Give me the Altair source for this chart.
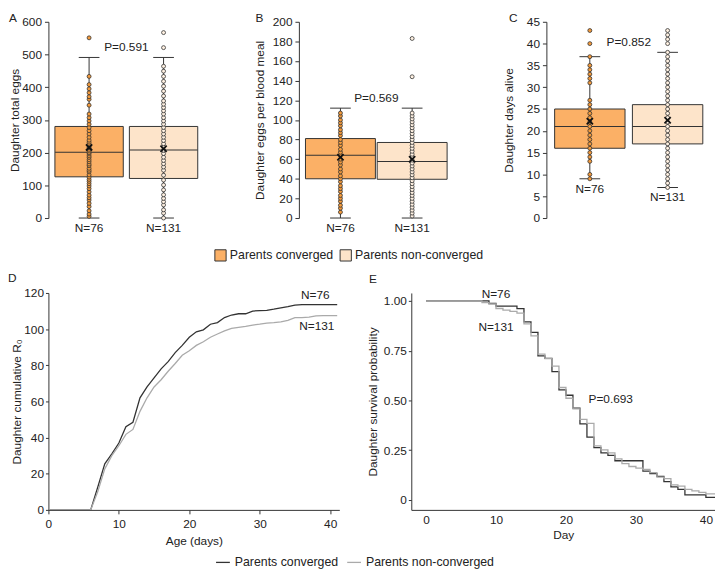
import altair as alt
import pandas as pd

FONT = "Liberation Sans"
TXT = "#222222"
AX = "#333333"

groups = ["Parents converged", "Parents non-converged"]
line_groups = ["converged", "non-converged"]
n_text = ["N=76", "N=131"]
box_fill = ["#FBB066", "#FDE4CA"]
point_fill = ["#F39A3C", "#FFF1E2"]
line_colors = ["#333333", "#AAAAAA"]

# ---------------- Panel A: total eggs ----------------
a_q1 = [126, 121]
a_med = [201, 208]
a_q3 = [280, 280]
a_lo = [0, 0]
a_hi = [491, 491]
a_mean = [216, 212]
a_conv = [5, 12, 22, 35, 45, 55, 62, 70, 80, 90, 98, 105, 112, 118, 125, 132, 141, 146,
          152, 160, 165, 172, 178, 185, 190, 196, 200, 205, 210, 215, 220, 226, 232, 238,
          247, 257, 267, 277, 287, 297, 307, 318, 345, 363, 371, 383, 395, 408, 433, 551]
a_non = [0, 15, 25, 40, 50, 60, 71, 86, 101, 116, 131, 146, 156, 166, 176, 186, 197, 207,
         217, 227, 237, 247, 257, 267, 277, 287, 297, 307, 318, 328, 338, 348, 358, 373,
         388, 403, 418, 433, 449, 464, 521, 567]

# ---------------- Panel B: eggs per blood meal ----------------
b_q1 = [40, 39.5]
b_med = [64, 57.5]
b_q3 = [81, 77]
b_lo = [0, 0]
b_hi = [112, 112]
b_mean = [62, 60]
b_conv = [6, 10, 13, 17, 20, 23, 27, 30, 33, 37, 40, 43, 47, 50, 54, 57, 60, 64, 67, 70,
          74, 77, 80, 84, 87, 90, 94, 97, 100, 104, 107]
b_non = [2, 5, 8, 11, 14, 17, 20, 23, 26, 29, 32, 35, 38, 41, 44, 47, 50, 53, 56, 59, 62,
         65, 68, 71, 74, 77, 80, 83, 86, 89, 92, 95, 98, 101, 104, 107, 144, 183]

# ---------------- Panel C: days alive ----------------
c_q1 = [16, 17]
c_med = [21, 21]
c_q3 = [25, 26]
c_lo = [9, 7]
c_hi = [37, 38]
c_mean = [22.2, 22.4]
c_conv = [9, 10, 13, 14, 15, 16, 17, 18, 19, 20, 21, 22, 23, 24, 25, 26, 27, 31, 32, 33,
          34, 35, 37, 40, 43]
c_non = [7, 8, 9, 10, 11, 12, 13, 14, 15, 16, 17, 18, 19, 20, 21, 22, 23, 24, 25, 26, 27,
         28, 29, 30, 31, 32, 33, 34, 35, 36, 37, 38, 40, 41, 42, 43]

# ---------------- Panel D: cumulative R0 ----------------
d_days = list(range(0, 42))
d_conv = [0, 0, 0, 0, 0, 0, 0, 12.5, 25.5, 31, 37, 46, 48.5, 62, 68, 73, 78, 82, 87, 91,
          95.5, 98.5, 99.6, 102.7, 103.6, 106.4, 107.8, 108.5, 108.5, 110, 110.2, 110.4,
          111, 111.8, 112.4, 113.3, 113.5, 113.5, 113.5, 113.5, 113.5, 113.5]
d_non = [0, 0, 0, 0, 0, 0, 0, 10, 22.7, 30, 35.5, 41.8, 44.5, 54.5, 62, 68, 72, 76.7, 81,
         85.5, 88, 91, 93, 95.5, 97.3, 99, 100.4, 101, 101.5, 102.2, 102.7, 103.3, 103.6,
         104, 104.9, 106.4, 106.4, 106.6, 107.3, 107.5, 107.5, 107.5]
d_lab_x = [37.9, 38.1]
d_lab_y = [119, 101.5]

# ---------------- Panel E: survival ----------------
e_days = list(range(0, 43))
e_conv = [1, 1, 1, 1, 1, 1, 1, 1, 1, 0.987, 0.974, 0.974, 0.974, 0.961, 0.895, 0.842,
          0.724, 0.711, 0.645, 0.553, 0.526, 0.461, 0.382, 0.316, 0.263, 0.237, 0.224,
          0.197, 0.197, 0.197, 0.197, 0.145, 0.132, 0.118, 0.092, 0.066, 0.053, 0.026,
          0.026, 0.026, 0.013, 0.013, 0.013]
e_non = [1, 1, 1, 1, 1, 1, 1, 1, 0.992, 0.985, 0.962, 0.954, 0.947, 0.939, 0.885, 0.824,
         0.733, 0.710, 0.672, 0.565, 0.511, 0.458, 0.405, 0.385, 0.272, 0.252, 0.237,
         0.206, 0.183, 0.168, 0.160, 0.153, 0.137, 0.115, 0.107, 0.076, 0.069, 0.053,
         0.046, 0.038, 0.031, 0.031, 0.023]
e_lab_x = [10.0, 10.0]
e_lab_y = [1.035, 0.867]
e_p_x = [26.4]
e_p_y = [0.505]
e_p_text = ["P=0.693"]

CROSS = "M-1,-1L1,1M-1,1L1,-1"


def y_axis(title, values, title_pad, tick=4, lpad=3, fmt_expr=None):
    kw = dict(values=values, title=title, titlePadding=title_pad, tickSize=tick,
              labelPadding=lpad, grid=False, domainColor=AX, tickColor=AX,
              labelColor=TXT, titleColor=TXT, labelFont=FONT, titleFont=FONT,
              labelFontSize=12, titleFontSize=12, titleFontWeight="normal",
              labelOverlap=False)
    if fmt_expr:
        kw["labelExpr"] = fmt_expr
    return alt.Axis(**kw)


def panel_title(letter, dx, offset):
    return alt.TitleParams(letter, anchor="start", frame="group", dx=dx, offset=offset,
                           font=FONT, fontSize=12, fontWeight="normal", color=TXT,
                           baseline="bottom")


def box_panel(letter, ldx, ytitle, tpad, q1, med, q3, lo, hi, mean, pconv, pnon, ydom,
              yvals, ptxt, py, width, pin, pout, bw, step):
    stats = pd.DataFrame({"group": groups, "q1": q1, "med": med, "q3": q3, "lo": lo,
                          "hi": hi, "mean": mean, "n": n_text})
    pts = pd.DataFrame({"group": [groups[0]] * len(pconv) + [groups[1]] * len(pnon),
                        "v": pconv + pnon})
    ptd = pd.DataFrame({"group": [groups[0]], "v": [py], "t": [ptxt]})
    xenc = alt.X("group:N", scale=alt.Scale(domain=groups, paddingInner=pin,
                                            paddingOuter=pout), axis=None)
    ysc = alt.Scale(domain=ydom, nice=False, zero=False)
    yax = y_axis(ytitle, yvals, tpad)

    def Y(f):
        return alt.Y(f, scale=ysc, axis=yax)

    base = alt.Chart(stats)
    box = base.mark_bar(stroke=AX, strokeWidth=1, opacity=1).encode(
        x=xenc, y=Y("q1:Q"), y2="q3:Q",
        fill=alt.Fill("group:N", scale=alt.Scale(domain=groups, range=box_fill),
                      legend=alt.Legend(orient="none", legendX=168, legendY=230,
                                        direction="horizontal", title=None,
                                        symbolType="square", symbolSize=130,
                                        symbolStrokeColor=AX, symbolStrokeWidth=1,
                                        symbolOpacity=1, labelFont=FONT,
                                        labelFontSize=12.5, labelColor=TXT,
                                        labelOffset=3, columnPadding=4, padding=0)))
    whisk = base.mark_rule(color=AX, strokeWidth=1).encode(x=xenc, y=Y("lo:Q"), y2="hi:Q")
    cap_lo = base.mark_tick(color=AX, size=21, thickness=1, opacity=1).encode(x=xenc, y=Y("lo:Q"))
    cap_hi = base.mark_tick(color=AX, size=21, thickness=1, opacity=1).encode(x=xenc, y=Y("hi:Q"))
    medt = base.mark_tick(color=AX, size=bw, thickness=1, opacity=1).encode(x=xenc, y=Y("med:Q"))
    points = alt.Chart(pts).mark_point(filled=True, size=16, stroke=AX, strokeWidth=0.8,
                                       opacity=1).encode(
        x=xenc, y=Y("v:Q"),
        color=alt.Color("group:N", scale=alt.Scale(domain=groups, range=point_fill),
                        legend=None))
    meanm = base.mark_point(shape=CROSS, filled=False, size=40, color="#111111",
                            strokeWidth=1.8, opacity=1).encode(x=xenc, y=Y("mean:Q"))
    ntext = base.mark_text(baseline="top", dy=5, font=FONT, fontSize=12, color=TXT).encode(
        x=xenc, y=Y("lo:Q"), text="n:N")
    ptext = alt.Chart(ptd).mark_text(dx=step / 2, baseline="middle", font=FONT, fontSize=12,
                                     color=TXT).encode(x=xenc, y=Y("v:Q"), text="t:N")
    return alt.layer(box, whisk, cap_lo, cap_hi, medt, points, meanm, ntext, ptext).properties(
        width=width, height=199, title=panel_title(letter, ldx, -21))


pA = box_panel("A", -40, "Daughter total eggs", 0, a_q1, a_med, a_q3, a_lo, a_hi, a_mean,
               a_conv, a_non, [0, 600], [0, 100, 200, 300, 400, 500, 600], "P=0.591", 522,
               158, 0.082, 0.087, 69, 75.7)
pB = box_panel("B", -44, "Daughter eggs per blood meal", 6, b_q1, b_med, b_q3, b_lo, b_hi,
               b_mean, b_conv, b_non, [0, 200], list(range(0, 201, 20)), "P=0.569", 122,
               157, 0.025, 0.092, 71, 72.8)
pC = box_panel("C", -38, "Daughter days alive", 11, c_q1, c_med, c_q3, c_lo, c_hi, c_mean,
               c_conv, c_non, [0, 45], list(range(0, 46, 5)), "P=0.852", 40.3,
               167, 0.095, 0.106, 71.5, 79)

# ---------------- row 2 ----------------
d_df = pd.DataFrame({"day": d_days * 2,
                     "v": d_conv + d_non,
                     "series": [line_groups[0]] * len(d_days) + [line_groups[1]] * len(d_days)})
e_df = pd.DataFrame({"day": e_days * 2,
                     "v": e_conv + e_non,
                     "series": [line_groups[0]] * len(e_days) + [line_groups[1]] * len(e_days)})

stroke_enc = alt.Stroke("series:N", title="Lines",
                        scale=alt.Scale(domain=line_groups, range=line_colors),
                        legend=alt.Legend(orient="none", legendX=169, legendY=540,
                                          direction="horizontal", title=None,
                                          labelExpr="'Parents ' + datum.label",
                                          symbolType="stroke", symbolSize=196,
                                          symbolStrokeWidth=1.3, labelFont=FONT,
                                          labelFontSize=12.5, labelColor=TXT,
                                          labelOffset=4, columnPadding=6, padding=0))


def x_axis(title, tick, lpad, tpad):
    return alt.Axis(values=[0, 10, 20, 30, 40], title=title, tickSize=tick,
                    labelPadding=lpad, titlePadding=tpad, grid=False, domainColor=AX,
                    tickColor=AX, labelColor=TXT, titleColor=TXT, labelFont=FONT,
                    titleFont=FONT, labelFontSize=12, titleFontSize=12,
                    titleFontWeight="normal", labelFlush=False, labelOverlap=False)


dx_sc = alt.Scale(domain=[0, 41.3], nice=False, zero=False)
dy_sc = alt.Scale(domain=[0, 120], nice=False, zero=False)
d_xax = x_axis("Age (days)", 4, 5, 6)
d_yax = y_axis("Daughter cumulative R\u2080", [0, 20, 40, 60, 80, 100, 120], 0, tick=3, lpad=2)
d_line = alt.Chart(d_df).mark_line(strokeWidth=1.3, clip=True).encode(
    x=alt.X("day:Q", scale=dx_sc, axis=d_xax),
    y=alt.Y("v:Q", scale=dy_sc, axis=d_yax),
    stroke=stroke_enc)
d_lab = alt.Chart(pd.DataFrame({"day": d_lab_x, "v": d_lab_y, "t": n_text})).mark_text(
    font=FONT, fontSize=12, color=TXT, baseline="middle").encode(
    x=alt.X("day:Q", scale=dx_sc, axis=d_xax), y=alt.Y("v:Q", scale=dy_sc, axis=d_yax),
    text="t:N")
pD = alt.layer(d_line, d_lab).properties(width=295, height=220,
                                         title=panel_title("D", -41, -10))

ex_sc = alt.Scale(domain=[-2.1, 41.3], nice=False, zero=False)
ey_sc = alt.Scale(domain=[-0.05, 1.04], nice=False, zero=False)
e_xax = x_axis("Day", 0, 5, 4)
e_yax = y_axis("Daughter survival probability", [0, 0.25, 0.5, 0.75, 1.0], 4, tick=3, lpad=2,
               fmt_expr="datum.value == 0 ? '0' : format(datum.value, '.2f')")
e_line = alt.Chart(e_df).mark_line(strokeWidth=1.3, interpolate="step-after", clip=True).encode(
    x=alt.X("day:Q", scale=ex_sc, axis=e_xax),
    y=alt.Y("v:Q", scale=ey_sc, axis=e_yax),
    stroke=stroke_enc)
e_lab = alt.Chart(pd.DataFrame({"day": e_lab_x + e_p_x, "v": e_lab_y + e_p_y,
                                "t": n_text + e_p_text})).mark_text(
    font=FONT, fontSize=12, color=TXT, baseline="middle").encode(
    x=alt.X("day:Q", scale=ex_sc, axis=e_xax), y=alt.Y("v:Q", scale=ey_sc, axis=e_yax),
    text="t:N")
pE = alt.layer(e_line, e_lab).properties(width=308, height=220,
                                         title=panel_title("E", -43, -10))

row1 = alt.hconcat(pA, pB, pC, spacing=49)
row2 = alt.hconcat(pD, pE, spacing=27)

chart = alt.vconcat(row1, row2, spacing=39).properties(
    padding={"left": 0, "top": 0, "right": 0, "bottom": 0}
).configure(background="white").configure_view(stroke=None)

chart.save("out.html", embed_options={"renderer": "svg", "actions": False})
